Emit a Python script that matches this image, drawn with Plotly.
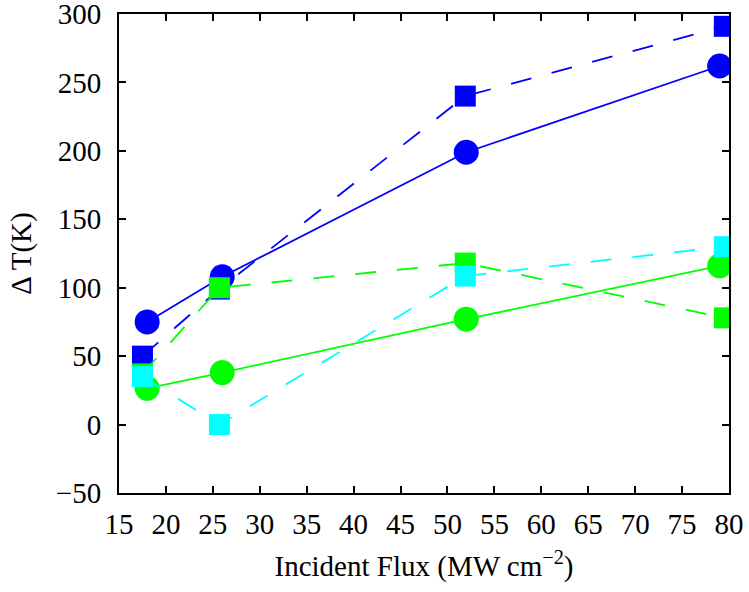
import plotly.graph_objects as go

# Data
flux_circles = [18, 26, 52, 79]
flux_squares = [17.5, 25.7, 51.9, 79.5]

blue_circles = [75, 108, 199, 262]
blue_squares = [50, 99, 240, 291]
green_circles = [26.5, 38, 77, 116]
green_squares = [37, 100, 118, 78]
cyan_squares = [35, 0, 108.5, 130]

x_ticks = list(range(15, 81, 5))
y_ticks = list(range(-50, 301, 50))

BLUE = "#0000FF"
GREEN = "#00FF00"
CYAN = "#00FFFF"
DASH = "21px,21px"
LW = 1.8

fig = go.Figure()

fig.add_trace(go.Scatter(x=flux_circles, y=blue_circles, mode="lines+markers",
                         line=dict(color=BLUE, width=LW),
                         marker=dict(symbol="circle", size=25, color=BLUE, line=dict(width=0))))
fig.add_trace(go.Scatter(x=flux_squares, y=blue_squares, mode="lines+markers",
                         line=dict(color=BLUE, width=LW, dash=DASH),
                         marker=dict(symbol="square", size=21, color=BLUE, line=dict(width=0))))
fig.add_trace(go.Scatter(x=flux_circles, y=green_circles, mode="lines+markers",
                         line=dict(color=GREEN, width=LW),
                         marker=dict(symbol="circle", size=25, color=GREEN, line=dict(width=0))))
fig.add_trace(go.Scatter(x=flux_squares, y=green_squares, mode="lines+markers",
                         line=dict(color=GREEN, width=LW, dash=DASH),
                         marker=dict(symbol="square", size=21, color=GREEN, line=dict(width=0))))
fig.add_trace(go.Scatter(x=flux_squares, y=cyan_squares, mode="lines+markers",
                         line=dict(color=CYAN, width=LW, dash=DASH),
                         marker=dict(symbol="square", size=21, color=CYAN, line=dict(width=0))))

font = dict(family="Liberation Serif", size=29, color="black")

fig.update_layout(
    width=749, height=592,
    margin=dict(l=119, r=20, t=14, b=99),
    paper_bgcolor="white", plot_bgcolor="white",
    showlegend=False,
    font=font,
    xaxis=dict(range=[15, 80], tickvals=x_ticks, ticks="inside", ticklen=7, tickwidth=1.5,
               tickcolor="black", showline=True, linecolor="black", linewidth=2,
               mirror="ticks", showgrid=False, zeroline=False, tickfont=font,
               automargin=False, ticklabelstandoff=4, ticklabeloverflow="allow",
               title=dict(text="Incident Flux (MW cm<sup>\u22122</sup>)", font=font, standoff=17)),
    yaxis=dict(range=[-50, 300], tickvals=y_ticks, ticks="inside", ticklen=7, tickwidth=1.5,
               tickcolor="black", showline=True, linecolor="black", linewidth=2,
               mirror="ticks", showgrid=False, zeroline=False, tickfont=font,
               automargin=False, ticklabelstandoff=10, ticklabeloverflow="allow",
               title=dict(text="\u0394 T(K)", font=font, standoff=16)),
)

fig.write_html("out.html", config={"displayModeBar": False},
               post_script="document.body.style.margin='0';")
